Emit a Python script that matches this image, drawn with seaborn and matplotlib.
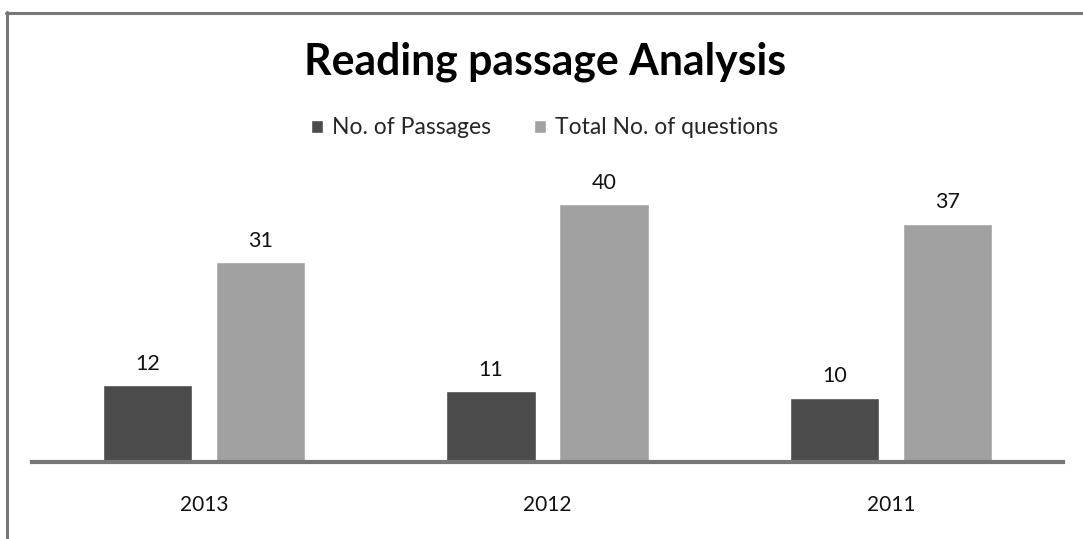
import pandas as pd
import numpy as np
import seaborn as sns
import matplotlib.pyplot as plt
from matplotlib.lines import Line2D
from matplotlib.patches import Patch

# data
years = ["2013", "2012", "2011"]
passages = [12, 11, 10]
questions = [31, 40, 37]
series_names = ["No. of Passages", "Total No. of questions"]

df = pd.DataFrame({
    "year": years * 2,
    "value": passages + questions,
    "series": [series_names[0]] * 3 + [series_names[1]] * 3,
})

sns.set_theme(style="white")
plt.rcParams["font.family"] = ["Lato", "DejaVu Sans"]

colors = ["#4b4b4b", "#a1a1a1"]

fig = plt.figure(figsize=(10.83, 5.39), dpi=100)
ax = fig.add_axes([32 / 1083, 77 / 539, 1031 / 1083, 290 / 539])

sns.barplot(data=df, x="year", y="value", hue="series", palette=colors,
            width=0.658, gap=0.212, saturation=1, ax=ax, legend=False)

for c in ax.containers:
    ax.bar_label(c, padding=8, fontsize=15.5, color="#111111")

ax.set_xlim(-0.5, 2.5)
ax.set_ylim(0, 45)
ax.set_xlabel("")
ax.set_ylabel("")
ax.set_yticks([])
ax.tick_params(axis="x", length=0, pad=24, labelsize=15, labelcolor="#111111")
for s in ["top", "right", "left"]:
    ax.spines[s].set_visible(False)
ax.spines["bottom"].set_color("#767676")
ax.spines["bottom"].set_linewidth(3)

# title and legend
fig.text(0.503, 0.885, "Reading passage Analysis", ha="center", va="center",
         fontsize=30.8, fontweight="bold", color="black")
handles = [Patch(facecolor=colors[i], label=series_names[i]) for i in range(2)]
fig.legend(handles=handles, loc="center", bbox_to_anchor=(0.503, 0.763), ncol=2,
           frameon=False, fontsize=16.5, handlelength=0.5, handleheight=0.5,
           handletextpad=0.4, columnspacing=1.9)

# outer border (top and left edges visible)
fig.add_artist(Line2D([6 / 1083, 1], [1 - 13 / 539, 1 - 13 / 539],
                      color="#777777", lw=2.2, transform=fig.transFigure))
fig.add_artist(Line2D([7 / 1083, 7 / 1083], [0, 1 - 12 / 539],
                      color="#777777", lw=2.2, transform=fig.transFigure))

fig.savefig("out.png", dpi=100, facecolor="white")
